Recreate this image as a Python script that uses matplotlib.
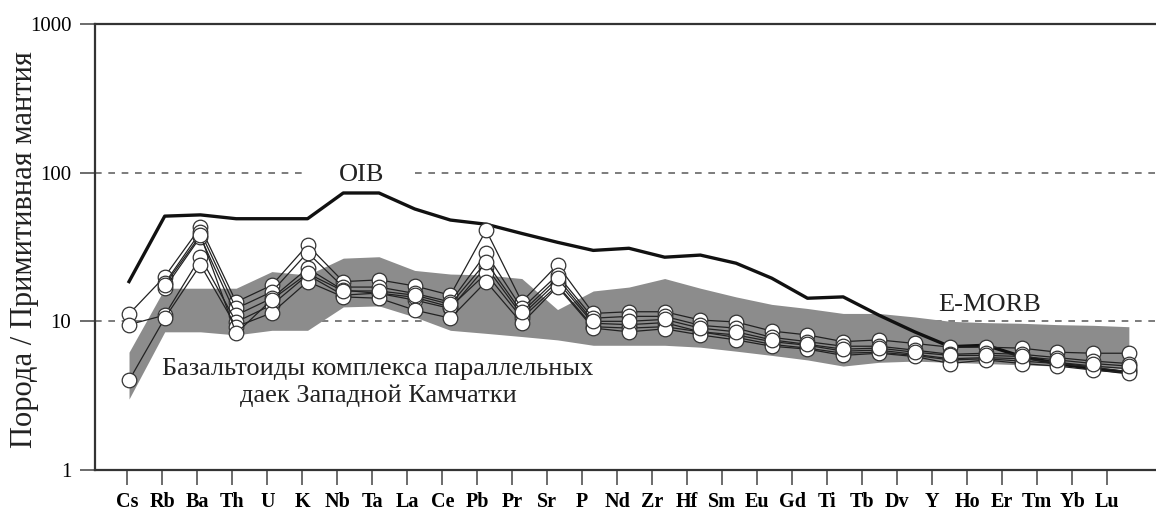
import numpy as np
import matplotlib.pyplot as plt
from matplotlib.ticker import NullLocator

elements = ['Cs', 'Rb', 'Ba', 'Th', 'U', 'K', 'Nb', 'Ta', 'La', 'Ce', 'Pb', 'Pr', 'Sr', 'P',
            'Nd', 'Zr', 'Hf', 'Sm', 'Eu', 'Gd', 'Ti', 'Tb', 'Dv', 'Y', 'Ho', 'Er', 'Tm', 'Yb', 'Lu']

oib = [18.5, 51, 52, 49, 49, 49, 73, 73, 57, 48, 45, 39, 34, 30, 31, 27, 27.9, 24.6, 19.5,
       14.3, 14.6, 11, 8.5, 6.75, 6.9, 5.8, 5.2, 4.8, 4.5]

# серое поле
band_hi = [6.2, 16.7, 16.7, 16.7, 21.6, 20.5, 26.6, 27.2, 22, 20.8, 20.5, 19.4, 12, 16,
           17, 19.4, 16.7, 14.6, 13, 12.2, 11.3, 11.3, 10.7, 10, 9.8, 9.7, 9.5, 9.4, 9.2]
band_lo = [3.0, 8.5, 8.5, 8.1, 8.7, 8.7, 12.5, 12.7, 10.7, 8.7, 8.3, 7.9, 7.5, 6.9,
           6.9, 6.9, 6.7, 6.3, 5.9, 5.5, 5.0, 5.3, 5.4, 5.3, 5.2, 5.1, 5.0, 4.9, 4.8]

nan = np.nan
s1 = [11.2, 20, 43, 13.5, 17.5, 32.6, 18.5, 19, 17.3, 15, 41, 13.5, 24, 11.3, 11.6, 11.6,
      10.2, 9.9, 8.6, 8.1, 7.3, 7.5, 7.1, 6.7, 6.7, 6.6, 6.2, 6.1, 6.1]
s2 = [nan, 18, 40, 12.2, 15.8, 29, 17, 17, 15.4, 13.5, 28.6, 12.2, 20.5, 10.5, 10.8, 10.8,
      9.4, 9.0, 7.8, 7.3, 6.8, 6.8, 6.4, 6.0, 6.1, 6.0, 5.7, 5.4, 5.2]
s3 = [nan, 16.7, 37, 11, 14.3, 22.7, 16.2, 15.4, 13.9, 12.2, 23.3, 11, 18.5, 9.7, 9.5, 9.8,
      8.5, 8.1, 7.3, 6.9, 6.3, 6.4, 6.0, 5.6, 5.7, 5.6, 5.3, 5.0, 4.8]
s4 = [9.5, 11, 27, 9.9, 12.9, 20.5, 15, 15.5, 14.5, 12.5, 21, 10.5, 17.5, 9.2, 9.0, 9.2,
      8.5, 7.8, 7.0, 6.6, 6.1, 6.2, 5.9, 5.5, 5.6, 5.4, 5.2, 4.9, 4.6]
s5 = [4.0, 10.5, 24, 9.2, 11.4, 18.5, 14.6, 14.3, 11.9, 10.5, 18.5, 9.7, 17.1, 9.0, 8.5, 8.9,
      8.1, 7.5, 6.8, 6.5, 5.9, 6.1, 5.8, 5.2, 5.5, 5.2, 5.0, 4.7, 4.5]
s6 = [nan, 17.5, 38, 8.3, 14, 21, 16, 16, 15, 13, 25, 11.5, 19.5, 10, 10, 10.3,
      9, 8.5, 7.5, 7.0, 6.5, 6.6, 6.2, 5.9, 5.9, 5.8, 5.5, 5.2, 5.0]
samples = [s1, s2, s3, s4, s5, s6]

plt.rcParams['font.family'] = 'Liberation Serif'

fig = plt.figure(figsize=(11.56, 5.15), dpi=100)
ax = fig.add_axes([0.0822, 0.0874, 0.9178, 0.866])
x = np.arange(len(elements))

ax.set_yscale('log')
ax.set_ylim(1, 1000)
ax.set_xlim(-0.952, 28.76)

dash = (0, (4, 4))
ax.axhline(10, color='#666666', lw=1.2, ls=dash, zorder=1)
ax.axhline(100, xmax=0.196, color='#666666', lw=1.2, ls=dash, zorder=1)
ax.axhline(100, xmin=0.3016, color='#666666', lw=1.2, ls=dash, zorder=1)

ax.fill_between(x, band_lo, band_hi, color='#8c8c8c', lw=0, zorder=2)
ax.plot(x, oib, color='#111111', lw=2.4, zorder=3)

for s in samples:
    ax.plot(x, s, color='#222222', lw=0.9, marker='o', ms=10.5, mfc='white',
            mec='#333333', mew=0.9, zorder=4)

ax.set_yticks([1, 10, 100, 1000])
ax.set_yticklabels(['1', '10', '100', '1000'], fontsize=15)
ax.yaxis.set_minor_locator(NullLocator())
ax.set_xticks(x * 0.98 - 0.048)
ax.set_xticklabels(elements, fontsize=14.5, fontweight='bold')
ax.tick_params(axis='both', direction='out', length=11, width=1.1, color='#444444')
ax.tick_params(axis='x', pad=5)
ax.tick_params(axis='y', pad=6)

ax.spines['right'].set_visible(False)
for side in ['left', 'top', 'bottom']:
    ax.spines[side].set_linewidth(1.6)
    ax.spines[side].set_color('#333333')

fig.text(0.0216, 0.515, 'Порода / Примитивная мантия', rotation=90,
         ha='center', va='center', fontsize=22, color='#222222')
fig.text(0.3131, 0.660, 'OIB', ha='center', va='center', fontsize=19, color='#222222')
fig.text(0.8564, 0.408, 'E-MORB', ha='center', va='center', fontsize=19, color='#222222')
fig.text(0.327, 0.258, 'Базальтоиды комплекса параллельных\nдаек Западной Камчатки',
         ha='center', va='center', multialignment='center', linespacing=1.25,
         fontsize=19, color='#222222')

fig.savefig('out.png', dpi=100)
